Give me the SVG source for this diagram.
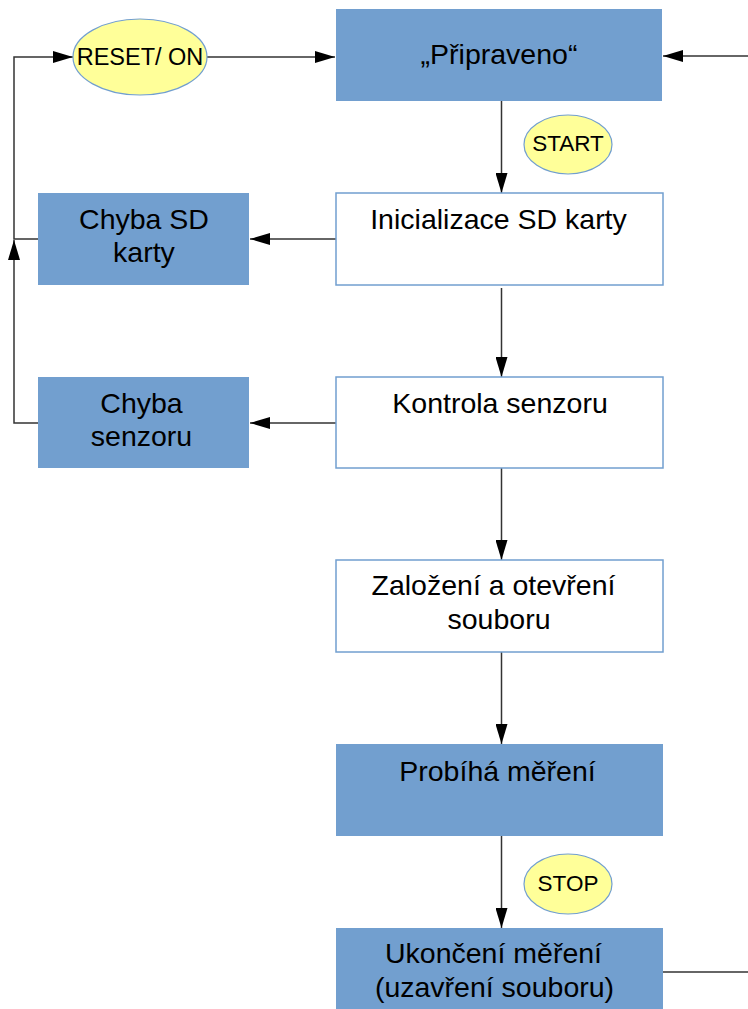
<svg xmlns="http://www.w3.org/2000/svg" width="748" height="1009" viewBox="0 0 748 1009">
<defs>
<style>
.blue{fill:#729fcf;stroke:none}
.white{fill:#ffffff;stroke:#729fcf;stroke-width:1.5}
.oval{fill:#ffff99;stroke:#729fcf;stroke-width:1.2}
.t{font-family:"Liberation Sans",Arial,sans-serif;font-size:28.5px;fill:#000;text-anchor:middle}
.s{font-family:"Liberation Sans",Arial,sans-serif;font-size:22.5px;fill:#000;text-anchor:middle}
.c{fill:none;stroke:#333;stroke-width:1.5}
</style>
<marker id="ah" markerUnits="userSpaceOnUse" markerWidth="20" markerHeight="12" refX="20" refY="6" orient="auto">
<path d="M0,0 L20,6 L0,12 Z" fill="#000"/>
</marker>
</defs>
<rect width="748" height="1009" fill="#fff"/>
<g id="connectors">
<path class="c" d="M748,56 H663" marker-end="url(#ah)"/>
<path class="c" d="M207,57 H335" marker-end="url(#ah)"/>
<path class="c" d="M38,239 H14 V57 H73" marker-end="url(#ah)"/>
<path class="c" d="M38,423 H14 V240" marker-end="url(#ah)"/>
<path class="c" d="M336,239 H250" marker-end="url(#ah)"/>
<path class="c" d="M336,423 H250" marker-end="url(#ah)"/>
<path class="c" d="M501.5,101 V193" marker-end="url(#ah)"/>
<path class="c" d="M501.5,288 V377" marker-end="url(#ah)"/>
<path class="c" d="M501.5,468 V560" marker-end="url(#ah)"/>
<path class="c" d="M501.5,652 V744" marker-end="url(#ah)"/>
<path class="c" d="M501.5,836 V928" marker-end="url(#ah)"/>
<path class="c" d="M663,972 H748"/>
</g>
<g id="pripraveno">
<rect class="blue" x="336" y="9" width="326" height="92"/>
<text class="t" x="499" y="64">„Připraveno“</text>
</g>
<g id="reset">
<ellipse class="oval" cx="140" cy="57" rx="67" ry="38"/>
<text class="s" x="140" y="65" style="font-size:23.5px">RESET/ ON</text>
</g>
<g id="start">
<ellipse class="oval" cx="568" cy="144.5" rx="44" ry="29.5"/>
<text class="s" x="568" y="151">START</text>
</g>
<g id="inicializace">
<rect class="white" x="336" y="193" width="327" height="92"/>
<text class="t" x="498.5" y="229">Inicializace SD karty</text>
</g>
<g id="chyba-sd">
<rect class="blue" x="38" y="193" width="211" height="92"/>
<text class="t" x="144" y="229">Chyba SD</text>
<text class="t" x="144" y="262">karty</text>
</g>
<g id="kontrola">
<rect class="white" x="336" y="377" width="327" height="91"/>
<text class="t" x="500" y="413">Kontrola senzoru</text>
</g>
<g id="chyba-senzoru">
<rect class="blue" x="38" y="377" width="211" height="91"/>
<text class="t" x="141.5" y="413">Chyba</text>
<text class="t" x="141.5" y="446">senzoru</text>
</g>
<g id="zalozeni">
<rect class="white" x="336" y="560" width="327" height="92"/>
<text class="t" x="493.5" y="595">Založení a otevření</text>
<text class="t" x="499" y="629">souboru</text>
</g>
<g id="probiha">
<rect class="blue" x="336" y="744" width="327" height="92"/>
<text class="t" x="497.5" y="781">Probíhá měření</text>
</g>
<g id="stop">
<ellipse class="oval" cx="568" cy="884" rx="44" ry="30"/>
<text class="s" x="568" y="891">STOP</text>
</g>
<g id="ukonceni">
<rect class="blue" x="336" y="928" width="327" height="90"/>
<text class="t" x="493.5" y="963">Ukončení měření</text>
<text class="t" x="494.5" y="997">(uzavření souboru)</text>
</g>
</svg>
